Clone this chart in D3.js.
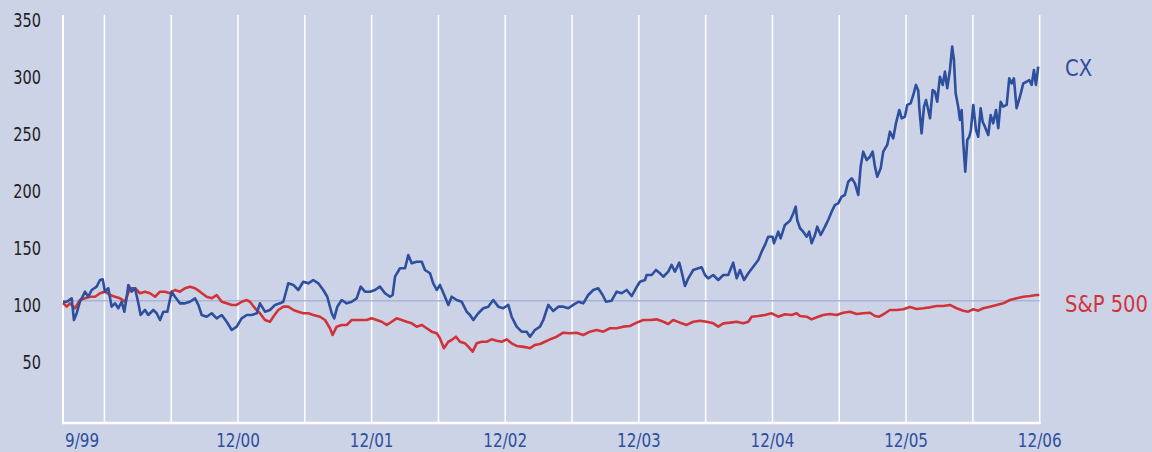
<!DOCTYPE html>
<html><head><meta charset="utf-8">
<script src="https://cdn.jsdelivr.net/npm/d3@7"></script>
<style>
html,body{margin:0;padding:0;background:#cdd3e6;}
svg{display:block;}
</style></head><body>
<svg id="chart" width="1152" height="452"></svg>
<script>
// ---- data (time in decimal years, values indexed to 100) ----
const cxTimes = [1999.690,1999.718,1999.755,1999.772,1999.793,1999.817,1999.855,1999.879,1999.905,1999.942,1999.967,1999.987,
2000.004,2000.029,2000.054,2000.079,2000.104,2000.129,2000.149,2000.167,2000.179,2000.204,2000.229,2000.254,2000.271,2000.304,2000.328,2000.366,2000.391,2000.416,2000.441,2000.471,2000.503,2000.528,2000.566,2000.603,2000.640,2000.678,2000.703,2000.728,2000.765,2000.803,2000.840,2000.878,2000.915,2000.953,2000.990,
2001.027,2001.065,2001.102,2001.140,2001.164,2001.202,2001.239,2001.277,2001.314,2001.339,2001.376,2001.414,2001.451,2001.488,2001.526,2001.563,2001.601,2001.638,2001.668,2001.701,2001.720,2001.743,2001.776,2001.813,2001.851,2001.888,2001.918,2001.950,2001.988,
2002.025,2002.062,2002.100,2002.137,2002.157,2002.175,2002.212,2002.250,2002.274,2002.300,2002.337,2002.375,2002.399,2002.437,2002.461,2002.487,2002.511,2002.549,2002.574,2002.599,2002.636,2002.674,2002.711,2002.736,2002.761,2002.798,2002.836,2002.873,2002.910,2002.948,2002.985,
2003.023,2003.048,2003.085,2003.123,2003.160,2003.185,2003.222,2003.260,2003.285,2003.322,2003.359,2003.397,2003.434,2003.472,2003.509,2003.547,2003.584,2003.621,2003.659,2003.696,2003.729,2003.754,2003.796,2003.834,2003.871,2003.909,2003.946,2003.978,
2004.008,2004.046,2004.058,2004.096,2004.128,2004.158,2004.183,2004.220,2004.245,2004.270,2004.302,2004.320,2004.345,2004.370,2004.407,2004.445,2004.470,2004.495,2004.519,2004.557,2004.594,2004.632,2004.669,2004.706,2004.732,2004.757,2004.787,2004.819,2004.856,2004.894,2004.919,2004.944,2004.968,
2005.001,2005.011,2005.043,2005.061,2005.093,2005.131,2005.156,2005.174,2005.185,2005.206,2005.230,2005.256,2005.275,2005.293,2005.318,2005.335,2005.361,2005.393,2005.417,2005.443,2005.468,2005.492,2005.518,2005.542,2005.567,2005.593,2005.617,2005.642,2005.660,2005.679,2005.705,2005.730,2005.750,2005.767,2005.784,2005.810,2005.829,2005.859,2005.879,2005.904,2005.924,2005.949,2005.967,2005.991,
2006.009,2006.034,2006.054,2006.074,2006.091,2006.100,2006.116,2006.134,2006.149,2006.166,2006.179,2006.199,2006.216,2006.233,2006.253,2006.274,2006.291,2006.308,2006.328,2006.345,2006.358,2006.371,2006.390,2006.403,2006.416,2006.428,2006.443,2006.458,2006.473,2006.485,2006.503,2006.523,2006.540,2006.558,2006.573,2006.590,2006.615,2006.633,2006.652,2006.673,2006.690,2006.708,2006.727,2006.753,2006.772,2006.790,2006.807,2006.827,2006.852,2006.877,2006.902,2006.922,2006.940,2006.957,2006.972,2006.989];
const cxValues = [99,99.1,102.1,83.1,89.3,99.1,107.9,103.5,109.4,112.3,118.1,118.7,
107.9,110.9,94.8,97.7,93.4,99.1,90.4,103.5,113.8,107.9,110.9,97.7,87.5,91.9,87.5,91.9,89.0,83.1,90.4,90.4,107.9,103.5,97.7,97.7,99.1,102.1,96.3,87.5,86.0,89.0,84.6,87.5,81.6,74.4,77.3,
84.6,87.5,87.5,89.0,97.7,90.4,91.9,96.3,97.7,99.1,115.2,113.8,109.4,116.6,115.2,118.1,115.2,109.4,103.5,89.0,84.6,94.8,100.6,97.7,99.1,102.1,112.3,107.9,107.9,
109.4,112.3,106.5,103.5,105.0,121.0,128.4,128.4,140.0,132.7,134.1,134.1,126.9,124.0,115.2,109.4,113.8,103.5,96.3,103.5,100.6,99.1,90.4,87.5,83.1,89.0,93.4,94.8,100.6,94.8,93.4,
96.3,86.0,77.3,72.9,72.9,68.5,74.4,77.3,83.1,96.3,91.0,94.8,94.8,93.4,96.3,99.1,97.7,105.0,109.4,110.9,105.0,99.1,100.0,107.9,106.5,109.4,104.1,110.9,
116.6,118.1,122.5,122.5,126.9,124.0,121.0,125.4,131.3,125.4,133.3,125.4,112.9,119.6,126.9,128.4,129.2,122.5,119.6,122.5,118.1,122.5,122.5,133.3,119.6,126.9,118.1,124.0,129.8,135.6,142.9,148.8,156.0,
156.0,150.2,160.4,154.6,166.3,170.0,176.5,182.3,170.6,163.4,160.4,156.0,160.4,150.2,157.5,164.8,157.5,164.8,170.6,177.9,183.8,185.2,191.0,192.5,204.1,207.1,202.7,192.5,217.3,230.4,223.1,226.0,230.4,217.3,208.5,215.9,230.4,236.3,247.9,242.1,255.2,266.9,259.6,261.0,
271.3,272.7,280.0,288.8,284.0,266.9,246.5,269.8,275.6,266.9,259.6,284.4,282.9,274.1,296.0,288.8,300.4,285.9,301.9,322.3,310.6,281.5,269.8,258.1,266.9,237.7,212.9,240.6,243.5,249.4,271.3,249.4,243.5,268.4,256.6,252.3,245.0,262.5,255.2,266.9,250.9,274.1,269.8,271.3,294.6,290.2,294.6,268.4,278.5,290.2,291.6,293.1,288.8,301.9,288.8,304.8];

const spTimes = [1999.690,1999.718,1999.742,1999.780,1999.817,1999.855,1999.892,1999.930,1999.967,
2000.004,2000.042,2000.079,2000.117,2000.154,2000.191,2000.229,2000.266,2000.304,2000.341,2000.379,2000.416,2000.453,2000.491,2000.528,2000.566,2000.603,2000.640,2000.678,2000.715,2000.765,2000.803,2000.840,2000.878,2000.915,2000.953,2000.990,
2001.027,2001.065,2001.089,2001.127,2001.164,2001.202,2001.239,2001.264,2001.301,2001.339,2001.376,2001.414,2001.451,2001.488,2001.526,2001.563,2001.613,2001.651,2001.688,2001.708,2001.738,2001.776,2001.813,2001.851,2001.888,2001.925,2001.963,
2002.000,2002.038,2002.075,2002.113,2002.150,2002.187,2002.225,2002.262,2002.300,2002.337,2002.375,2002.412,2002.449,2002.487,2002.511,2002.541,2002.574,2002.599,2002.631,2002.661,2002.699,2002.723,2002.756,2002.786,2002.824,2002.861,2002.898,2002.936,2002.973,
2003.011,2003.048,2003.085,2003.123,2003.160,2003.185,2003.222,2003.260,2003.297,2003.335,2003.385,2003.434,2003.484,2003.534,2003.584,2003.634,2003.684,2003.734,2003.784,2003.834,2003.883,2003.933,2003.984,
2004.033,2004.083,2004.133,2004.183,2004.220,2004.257,2004.308,2004.358,2004.407,2004.457,2004.507,2004.557,2004.594,2004.632,2004.682,2004.732,2004.781,2004.819,2004.844,2004.894,2004.944,2004.994,
2005.043,2005.093,2005.144,2005.181,2005.206,2005.256,2005.293,2005.331,2005.380,2005.430,2005.480,2005.530,2005.580,2005.630,2005.679,2005.730,2005.767,2005.799,2005.842,2005.879,2005.929,2005.979,
2006.029,2006.079,2006.128,2006.179,2006.229,2006.278,2006.328,2006.378,2006.428,2006.465,2006.503,2006.540,2006.577,2006.628,2006.678,2006.727,2006.777,2006.827,2006.877,2006.927,2006.977,2006.997];
const spValues = [98,94.8,97.7,93.4,100.6,102.1,103.5,103.5,106.5,
107.9,105.0,103.5,102.1,99.1,110.9,110.9,106.5,107.9,106.5,103.5,107.9,107.9,106.5,109.4,107.9,110.9,112.3,110.9,107.9,103.5,102.1,105.0,99.1,97.7,96.3,96.3,
99.1,100.6,99.1,93.4,89.0,83.1,81.6,86.0,91.9,94.8,94.8,91.9,90.4,89.0,89.0,87.5,86.0,83.1,75.9,70.0,77.3,78.8,78.8,83.1,83.1,83.1,83.1,
84.6,83.1,81.6,78.8,81.6,84.6,83.1,81.6,80.2,77.3,78.8,75.9,72.9,71.5,67.1,58.4,64.1,65.6,68.5,64.1,62.7,59.8,55.4,62.7,64.1,64.1,66.2,65.0,64.1,
66.2,62.7,60.4,59.8,59.2,58.4,61.3,62.1,64.1,66.2,68.5,72.0,71.5,72.0,70.0,72.9,74.4,72.9,75.9,75.9,77.3,77.9,80.8,
83.1,83.1,83.7,81.6,79.6,83.1,80.8,78.8,81.6,82.5,81.6,80.2,77.3,80.2,80.8,81.6,80.2,81.6,86.0,86.6,87.5,89.0,
86.0,88.1,87.5,89.0,86.6,86.0,83.7,85.5,87.5,88.4,87.5,89.5,90.4,88.4,89.0,89.5,86.6,86.0,89.0,91.9,91.9,92.5,
94.5,92.8,93.4,94.2,95.4,95.4,96.3,93.4,91.3,90.4,92.5,91.3,93.4,94.8,96.3,97.7,100.6,102.1,103.5,104.1,105.0,105.0];

const seriesNames = ["CX", "S&P 500"];
const baseValue = 100;
const yTickValues = [50, 100, 150, 200, 250, 300, 350];
const xTickTimes = [1999.69, 2001, 2002, 2003, 2004, 2005, 2006, 2007];
const xTickLabels = ["9/99", "12/00", "12/01", "12/02", "12/03", "12/04", "12/05", "12/06"];
const gridTimes = [2000, 2000.5, 2001, 2001.5, 2002, 2002.5, 2003, 2003.5, 2004, 2004.5, 2005, 2005.5, 2006, 2006.5, 2007];

// ---- drawing ----
const FONT = "'DejaVu Sans Condensed','DejaVu Sans',sans-serif";
const BLUE = "#2d4f9e", RED = "#d0343a";
const svg = d3.select("#chart");
svg.append("rect").attr("width", 1152).attr("height", 452).attr("fill", "#cdd3e6");

const plotTop = 15, plotBottom = 423;
const x = d3.scaleLinear().domain([1999.69, 2007]).range([63, 1039.7]);
const y = d3.scaleLinear().domain([0, 350]).range([415, 15]);

// vertical gridlines
svg.append("g").selectAll("line").data(gridTimes).join("line")
  .attr("x1", d => x(d)).attr("x2", d => x(d))
  .attr("y1", plotTop).attr("y2", plotBottom)
  .attr("stroke", "#ffffff").attr("stroke-width", 1.5);
// left axis line
svg.append("line").attr("x1", x(1999.69)).attr("x2", x(1999.69))
  .attr("y1", plotTop).attr("y2", plotBottom).attr("stroke", "#fff").attr("stroke-width", 2);
// base reference line
svg.append("line").attr("x1", x(1999.69)).attr("x2", x(2007))
  .attr("y1", y(baseValue)).attr("y2", y(baseValue))
  .attr("stroke", "#a8b3d6").attr("stroke-width", 1.5);
// bottom axis line
svg.append("line").attr("x1", x(1999.69) - 1).attr("x2", x(2007) + 1)
  .attr("y1", plotBottom).attr("y2", plotBottom).attr("stroke", "#fff").attr("stroke-width", 2.5);

// y labels (condensed horizontally to mimic the narrow face)
svg.append("g").selectAll("text").data(yTickValues).join("text")
  .attr("transform", d => `translate(41,${y(d) + 11.5}) scale(0.85,1)`)
  .attr("text-anchor", "end").attr("fill", "#222")
  .style("font-family", FONT).style("font-size", "19px")
  .text(d => d);

// x labels
svg.append("g").selectAll("text").data(xTickTimes).join("text")
  .attr("transform", (d, i) => `translate(${i === 0 ? x(d) + 2 : x(d)},447) scale(0.845,1)`)
  .attr("text-anchor", (d, i) => i === 0 ? "start" : "middle")
  .attr("fill", BLUE)
  .style("font-family", FONT).style("font-size", "20px")
  .text((d, i) => xTickLabels[i]);

// lines
const line = d3.line().x(d => x(d[0])).y(d => y(d[1]));
const spData = spTimes.map((t, i) => [t, spValues[i]]);
const cxData = cxTimes.map((t, i) => [t, cxValues[i]]);
svg.append("path").datum(spData).attr("d", line)
  .attr("fill", "none").attr("stroke", RED).attr("stroke-width", 2.6).attr("stroke-linejoin", "round");
svg.append("path").datum(cxData).attr("d", line)
  .attr("fill", "none").attr("stroke", BLUE).attr("stroke-width", 2.6).attr("stroke-linejoin", "round");

// series labels
svg.append("text").attr("transform", "translate(1065,76) scale(0.945,1)").attr("fill", BLUE)
  .style("font-family", FONT).style("font-size", "23px").text(seriesNames[0]);
svg.append("text").attr("transform", "translate(1065,311.7) scale(0.945,1)").attr("fill", RED)
  .style("font-family", FONT).style("font-size", "23px").text(seriesNames[1]);
</script>
</body></html>
